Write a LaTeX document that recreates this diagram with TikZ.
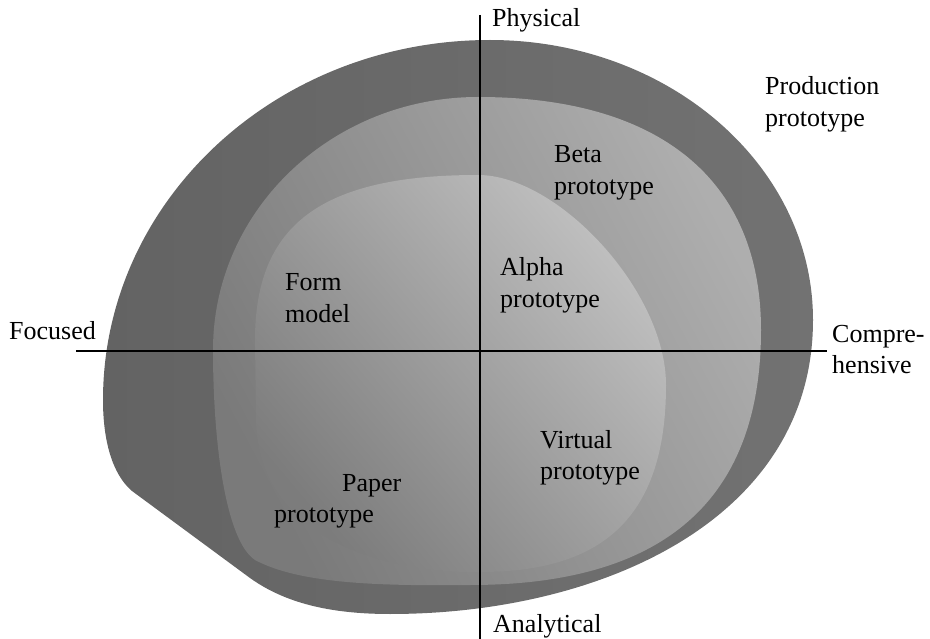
\documentclass[tikz,border=0pt]{standalone}
\usepackage{fontspec}
\setmainfont{Liberation Serif}
\definecolor{shellL}{HTML}{636363}
\definecolor{shellR}{HTML}{727272}
\definecolor{midT}{HTML}{AEAEAE}
\definecolor{midB}{HTML}{7A7A7A}
\definecolor{coreT}{HTML}{C0C0C0}
\definecolor{coreB}{HTML}{7C7C7C}
\begin{document}
\begin{tikzpicture}[x=1pt,y=-1pt,
  lbl/.style={anchor=base west, inner sep=0pt, font=\fontsize{26}{31.5}\selectfont},
  axisline/.style={line width=1.8pt, black}]
\useasboundingbox (0,0) rectangle (930,639);

% outer region: production prototype
\shade[left color=shellL, right color=shellR]
  (490,40) .. controls (668,40) and (813,165) .. (813,320)
  .. controls (813,520) and (600,614) .. (390,614)
  .. controls (330,614) and (285,603) .. (250,578)
  -- (132,491)
  .. controls (112,474) and (103,440) .. (103,400)
  .. controls (103,201) and (276,40) .. (490,40) -- cycle;

% middle region: beta prototype
\shade[top color=midT, bottom color=midB, shading angle=-62]
  (478,97) .. controls (660,97) and (761,180) .. (761,330)
  .. controls (761,520) and (640,585) .. (470,585)
  .. controls (380,586) and (300,584) .. (255,560)
  .. controls (225,540) and (213,440) .. (213,350)
  .. controls (213,210) and (332,97) .. (478,97) -- cycle;

% inner region: alpha prototype
\shade[top color=coreT, bottom color=coreB, shading angle=-50]
  (478,175) .. controls (558,175) and (666,291) .. (666,385)
  .. controls (666,520) and (600,572) .. (480,572)
  .. controls (410,574) and (258,550) .. (256,420)
  -- (255,340)
  .. controls (255,224) and (322,175) .. (478,175) -- cycle;

% the two axes
\coordinate (vtop) at (480,15);
\coordinate (vbot) at (480,639);
\coordinate (hleft) at (76,351);
\coordinate (hright) at (827,351);
\draw[axisline] (vtop) -- (vbot);
\draw[axisline] (hleft) -- (hright);

% axis labels
\node[lbl] (phys) at (492,27) {Physical};
\node[lbl] (anal) at (493,632) {Analytical};
\node[lbl] (focu) at (9,340) {Focused};
\node[lbl] (comp) at (832,342) {\begin{tabular}[t]{@{}l@{}}Compre-\\hensive\end{tabular}};

% region labels
\node[lbl] (prod) at (765,95) {\begin{tabular}[t]{@{}l@{}}Production\\prototype\end{tabular}};
\node[lbl] (beta) at (554,163) {\begin{tabular}[t]{@{}l@{}}Beta\\prototype\end{tabular}};
\node[lbl] (alph) at (500,276) {\begin{tabular}[t]{@{}l@{}}Alpha\\prototype\end{tabular}};
\node[lbl] (form) at (285,291) {\begin{tabular}[t]{@{}l@{}}Form\\model\end{tabular}};
\node[lbl] (virt) at (540,448) {\begin{tabular}[t]{@{}l@{}}Virtual\\prototype\end{tabular}};
\node[lbl] (papa) at (342,491) {Paper};
\node[lbl] (papb) at (274,522) {prototype};
\end{tikzpicture}
\end{document}
